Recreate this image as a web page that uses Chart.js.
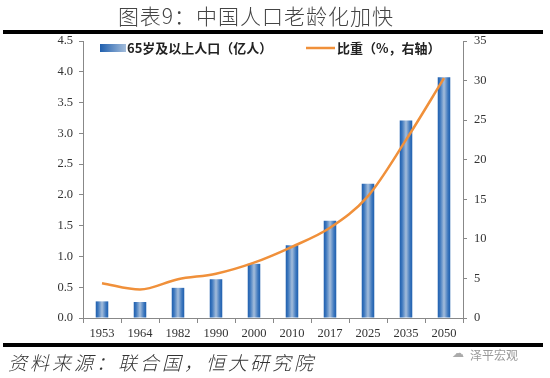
<!DOCTYPE html>
<html><head><meta charset="utf-8">
<script src="https://cdn.jsdelivr.net/npm/chart.js@4/dist/chart.umd.min.js"></script>
<style>
html,body{margin:0;padding:0;background:#fff;}
#wrap{position:relative;width:550px;height:378px;overflow:hidden;background:#fff;}
#c{position:absolute;left:0;top:0;}
#title{position:absolute;left:0;width:512px;top:0px;text-align:center;font-family:"Noto Sans CJK SC";font-weight:300;font-size:21px;color:#444;letter-spacing:1px;}
.rule{position:absolute;left:3px;width:540px;background:#000;}
#src{position:absolute;left:8px;top:348px;font-family:"Noto Sans CJK SC";font-weight:300;font-size:19px;font-style:italic;color:#333;letter-spacing:3px;}
#wm{position:absolute;left:470px;top:346px;font-family:"Noto Sans CJK SC";font-size:12px;color:#999;}
#wmi{position:absolute;left:452px;top:346px;font-size:12px;color:#aaa;font-family:"DejaVu Sans";}
</style></head>
<body><div id="wrap">
<canvas id="c" width="550" height="378"></canvas>
<div id="title">图表9：中国人口老龄化加快</div>
<div class="rule" style="top:30px;height:4px"></div>
<div class="rule" style="top:343px;height:4px"></div>
<div id="src">资料来源：联合国，恒大研究院</div>
<div id="wmi">☁</div>
<div id="wm">泽平宏观</div>
</div>
<script>
const years = ['1953','1964','1982','1990','2000','2010','2017','2025','2035','2050'];
const pop65 = [0.27,0.26,0.49,0.63,0.88,1.18,1.58,2.18,3.21,3.91];
const share = [4.4,3.6,4.9,5.6,7.0,9.0,11.4,15.4,22.5,30.3];
const barLabel = '65岁及以上人口（亿人）';
const lineLabel = '比重（%，右轴）';

const BAR_PCT = 0.33;
function barGradient(ctx){
  const chart = ctx.chart;
  const xs = chart.scales && chart.scales.x;
  if(!xs || ctx.dataIndex === undefined) return '#4a80c0';
  const cx = xs.getPixelForValue(ctx.dataIndex);
  const w = (xs.width / years.length) * BAR_PCT;
  if(!isFinite(cx) || !isFinite(w) || w <= 0) return '#4a80c0';
  const g = chart.ctx.createLinearGradient(cx - w/2, 0, cx + w/2, 0);
  g.addColorStop(0, '#1f5fae');
  g.addColorStop(0.18, '#3b76bd');
  g.addColorStop(0.5, '#a4bddb');
  g.addColorStop(0.82, '#3b76bd');
  g.addColorStop(1, '#1f5fae');
  return g;
}

const legendPlugin = {
  id:'customLegend',
  afterDraw(chart){
    const c = chart.ctx;
    c.save();
    const g = c.createLinearGradient(100,0,126,0);
    g.addColorStop(0,'#1f5fae'); g.addColorStop(1,'#a4bddb');
    c.fillStyle = g;
    c.fillRect(100,44,26,8);
    c.font = 'bold 13px "Noto Sans CJK SC"';
    c.fillStyle = '#222';
    c.textBaseline = 'middle';
    c.fillText(barLabel, 127, 48);
    c.strokeStyle = '#f0903a';
    c.lineWidth = 2.5;
    c.beginPath(); c.moveTo(306,48); c.lineTo(335,48); c.stroke();
    c.fillText(lineLabel, 337, 48);
    c.restore();
  }
};
const bgPlugin = {id:'bg',beforeDraw(chart){const c=chart.ctx;c.save();c.fillStyle='#fff';c.fillRect(0,0,chart.width,chart.height);c.restore();}};

const tickFont = {family:'"Liberation Serif"', size:12.5};
const chart = new Chart(document.getElementById('c'), {
  data:{
    labels: years,
    datasets:[
      {type:'line', label:lineLabel, data:share, yAxisID:'y1', borderColor:'#f0903a', borderWidth:2.5,
       pointRadius:0, tension:0.4, cubicInterpolationMode:'monotone', fill:false, order:0},
      {type:'bar', label:barLabel, data:pop65, yAxisID:'y', backgroundColor:barGradient,
       borderWidth:0, barPercentage:BAR_PCT, categoryPercentage:1, order:1}
    ]
  },
  options:{
    responsive:false, animation:false, devicePixelRatio:1,
    layout:{padding:{left:0,right:0,top:41,bottom:30}},
    plugins:{legend:{display:false}, tooltip:{enabled:false}},
    scales:{
      x:{
        offset:true,
        grid:{offset:true, drawOnChartArea:false, drawTicks:true, tickLength:5, color:'#888'},
        border:{display:true, color:'#888', width:1},
        ticks:{font:tickFont, color:'#333', padding:3},
        afterFit(s){s.height = 30;}
      },
      y:{
        position:'left', min:0, max:4.5,
        grid:{drawOnChartArea:false, drawTicks:true, tickLength:4, color:'#888'},
        border:{display:true, color:'#888', width:1},
        ticks:{stepSize:0.5, font:tickFont, color:'#333', padding:6, callback:v=>Number(v).toFixed(1)},
        afterFit(s){s.width = 83;}
      },
      y1:{
        position:'right', min:0, max:35,
        grid:{drawOnChartArea:false, drawTicks:true, tickLength:4, color:'#888'},
        border:{display:true, color:'#888', width:1},
        ticks:{stepSize:5, font:tickFont, color:'#333', padding:7},
        afterFit(s){s.width = 87;}
      }
    }
  },
  plugins:[bgPlugin, legendPlugin]
});
chart.update();
</script>
</body></html>
